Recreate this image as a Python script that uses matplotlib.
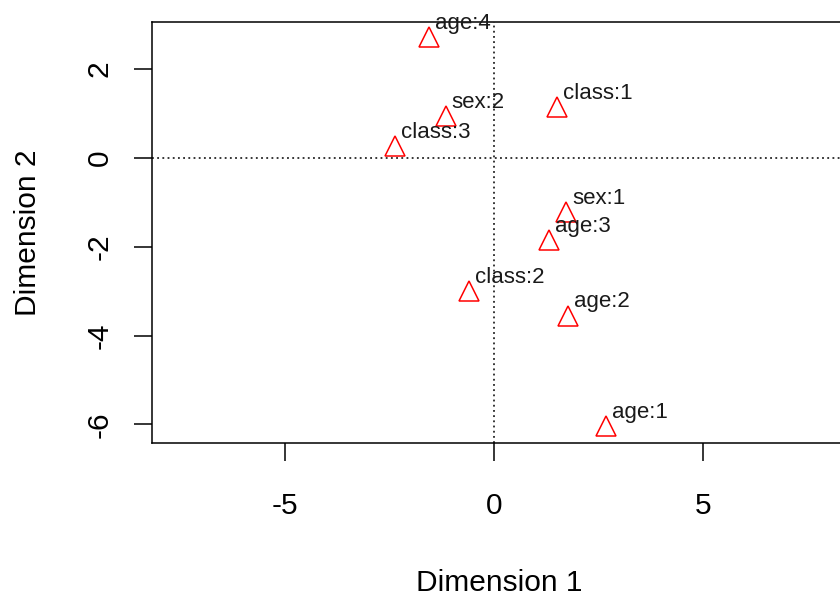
import matplotlib
matplotlib.use("Agg")
import matplotlib.pyplot as plt

labels = ["age:4", "class:1", "sex:2", "class:3", "sex:1", "age:3", "class:2", "age:2", "age:1"]
dim1 = [-1.55, 1.50, -1.15, -2.37, 1.72, 1.32, -0.59, 1.78, 2.67]
dim2 = [2.72, 1.15, 0.95, 0.27, -1.21, -1.85, -3.00, -3.55, -6.03]
xticks = [-5, 0, 5]
yticks = [-6, -4, -2, 0, 2]

plt.rcParams['font.family'] = ['Liberation Sans', 'DejaVu Sans']

W, H = 840, 602
fig = plt.figure(figsize=(W/100, H/100), dpi=100)
left, right, top, bottom = 152, 846, 22, 443
ax = fig.add_axes([left/W, 1-bottom/H, (right-left)/W, (bottom-top)/H])

ax.set_xlim(-8.17, (right-494)/41.85)
ax.set_ylim(-6.42, 3.06)

ax.axhline(0, color='black', linestyle=(0, (1.2, 2.2)), lw=1.1)
ax.axvline(0, color='black', linestyle=(0, (1.2, 2.2)), lw=1.1)

ax.plot(dim1, dim2, linestyle='none', marker='^', ms=14.5, mfc='none', mec='red', mew=1.1)
for x, y, t in zip(dim1, dim2, labels):
    ax.annotate(t, (x, y), xytext=(4.3, 5.8), textcoords='offset points',
                ha='left', va='baseline', fontsize=16, color='#1a1a1a')

ax.set_xticks(xticks)
ax.set_xticklabels([str(v) for v in xticks])
ax.set_yticks(yticks)
ax.set_yticklabels([str(v) for v in yticks], rotation=90, va='center')
ax.tick_params(direction='out', length=13, width=1.1, labelsize=21.5)
ax.tick_params(axis='x', pad=22.6)
ax.tick_params(axis='y', pad=14.7)
for s in ax.spines.values():
    s.set_linewidth(1.1)

ax.set_xlabel("Dimension 1", fontsize=21.5, labelpad=35)
ax.set_ylabel("Dimension 2", fontsize=21.5, labelpad=31)

fig.savefig("out.png", dpi=100)
